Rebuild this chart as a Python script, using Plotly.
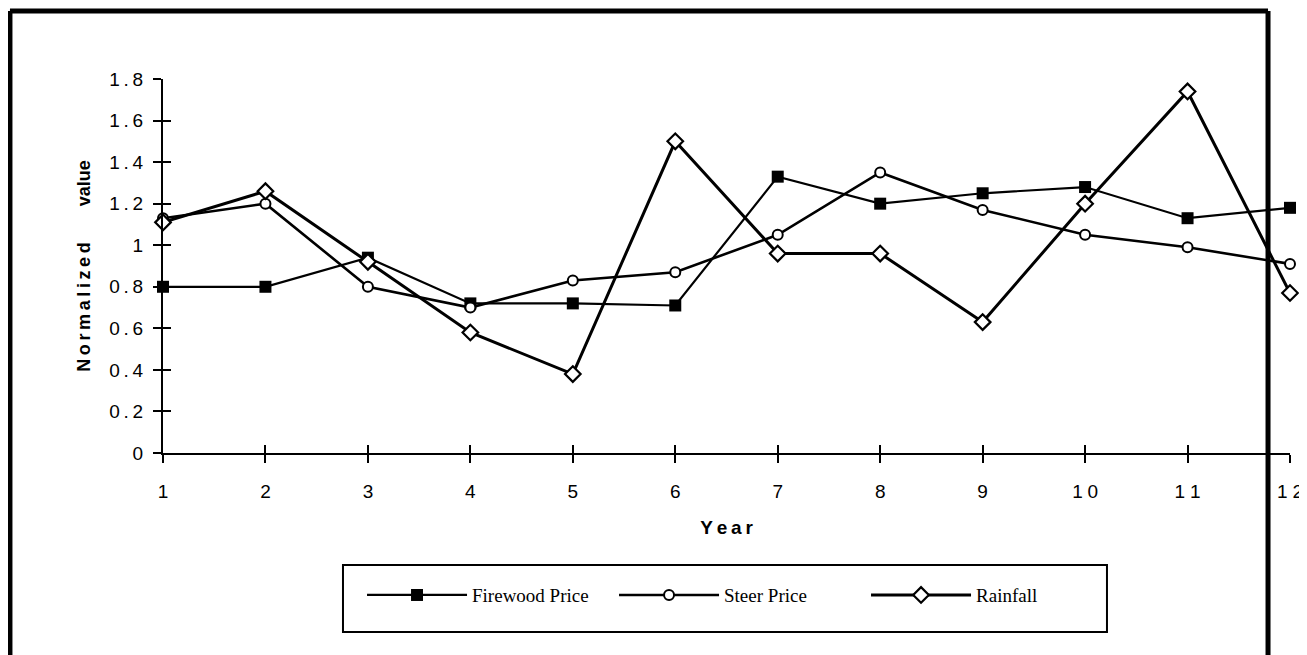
import plotly.graph_objects as go

years = list(range(1, 13))
firewood_price = [0.80, 0.80, 0.94, 0.72, 0.72, 0.71, 1.33, 1.20, 1.25, 1.28, 1.13, 1.18]
steer_price = [1.13, 1.20, 0.80, 0.70, 0.83, 0.87, 1.05, 1.35, 1.17, 1.05, 0.99, 0.91]
rainfall = [1.11, 1.26, 0.92, 0.58, 0.38, 1.50, 0.96, 0.96, 0.63, 1.20, 1.74, 0.77]

y_ticks = [0, 0.2, 0.4, 0.6, 0.8, 1, 1.2, 1.4, 1.6, 1.8]


def spaced(s, gap="\u2009"):
    # the old chart spreads its letters out a little
    return gap.join(list(s))


y_ticktext = [spaced(f"{v:g}") for v in y_ticks]
x_ticktext = [spaced(str(v), "\u2005") for v in years]

fig = go.Figure()
fig.add_trace(go.Scatter(x=years, y=firewood_price, name="Firewood Price", mode="lines+markers",
                         line=dict(color="black", width=2.2),
                         marker=dict(symbol="square", size=12, color="black"),
                         cliponaxis=False))
fig.add_trace(go.Scatter(x=years, y=steer_price, name="Steer Price", mode="lines+markers",
                         line=dict(color="black", width=2.6),
                         marker=dict(symbol="circle", size=10, color="white",
                                     line=dict(color="black", width=2)),
                         cliponaxis=False))
fig.add_trace(go.Scatter(x=years, y=rainfall, name="Rainfall", mode="lines+markers",
                         line=dict(color="black", width=3),
                         marker=dict(symbol="diamond", size=12, color="white",
                                     line=dict(color="black", width=2.2)),
                         cliponaxis=False))

sans = "Liberation Sans, Arial"
tick_font = dict(family=sans, size=19, color="black")

fig.update_xaxes(range=[1, 12], tickvals=years, ticktext=x_ticktext, showgrid=False, zeroline=False,
                 showline=True, linecolor="black", linewidth=2, automargin=False,
                 ticks="outside", ticklen=8, tickwidth=2, tickcolor="black",
                 tickfont=tick_font, ticklabelstandoff=12,
                 title=dict(text="<b>" + spaced("Year") + "</b>", standoff=20,
                            font=dict(family=sans, size=19, color="black")))
fig.update_yaxes(range=[0, 1.8], tickvals=y_ticks, ticktext=y_ticktext, showgrid=False, zeroline=False,
                 showline=True, linecolor="black", linewidth=2, automargin=False,
                 ticks="outside", ticklen=8, tickwidth=2, tickcolor="black",
                 tickfont=tick_font, ticklabelstandoff=6,
                 title=dict(text="<b>" + spaced("Normalized") + "\u2003\u2003value</b>",
                            standoff=14, font=dict(family=sans, size=18, color="black")))

# second pair of axes only to draw the inner half of the crossing ticks
fig.update_layout(
    xaxis2=dict(overlaying="x", range=[1, 12], tickvals=years, showticklabels=False, showgrid=False,
                zeroline=False, ticks="inside", ticklen=8, tickwidth=2, tickcolor="black",
                side="bottom", automargin=False),
    yaxis2=dict(overlaying="y", range=[0, 1.8], tickvals=y_ticks, showticklabels=False, showgrid=False,
                zeroline=False, ticks="inside", ticklen=8, tickwidth=2, tickcolor="black",
                side="left", automargin=False),
)
fig.add_trace(go.Scatter(x=[1], y=[0], xaxis="x2", yaxis="y2", mode="markers",
                         marker=dict(opacity=0), showlegend=False, hoverinfo="skip"))

# outer frame (no bottom edge) and legend box
frame = dict(type="line", xref="paper", yref="paper", line=dict(color="black", width=5))
fig.add_shape(**frame, x0=-0.1358, x1=-0.1358, y0=1.1818, y1=-0.6)
fig.add_shape(**frame, x0=-0.1358, x1=0.9805, y0=1.1818, y1=1.1818)
fig.add_shape(**frame, x0=0.9805, x1=0.9805, y0=1.1818, y1=-0.6)
fig.add_shape(type="rect", xref="paper", yref="paper", x0=0.1597, x1=0.8376, y0=-0.2995, y1=-0.4786,
              line=dict(color="black", width=2))

# the page body adds 8px around the figure, so the figure is 8px smaller
fig.update_layout(
    width=1299, height=647,
    margin=dict(l=155, r=17, t=71, b=202, autoexpand=False),
    plot_bgcolor="white", paper_bgcolor="white",
    showlegend=True,
    legend=dict(orientation="h", x=0.1766, y=-0.38, xanchor="left", yanchor="middle",
                entrywidth=137, entrywidthmode="pixels", itemwidth=100,
                font=dict(family="Liberation Serif, Times New Roman", size=19, color="black"),
                bgcolor="rgba(0,0,0,0)"),
)

fig.write_html("out.html")
